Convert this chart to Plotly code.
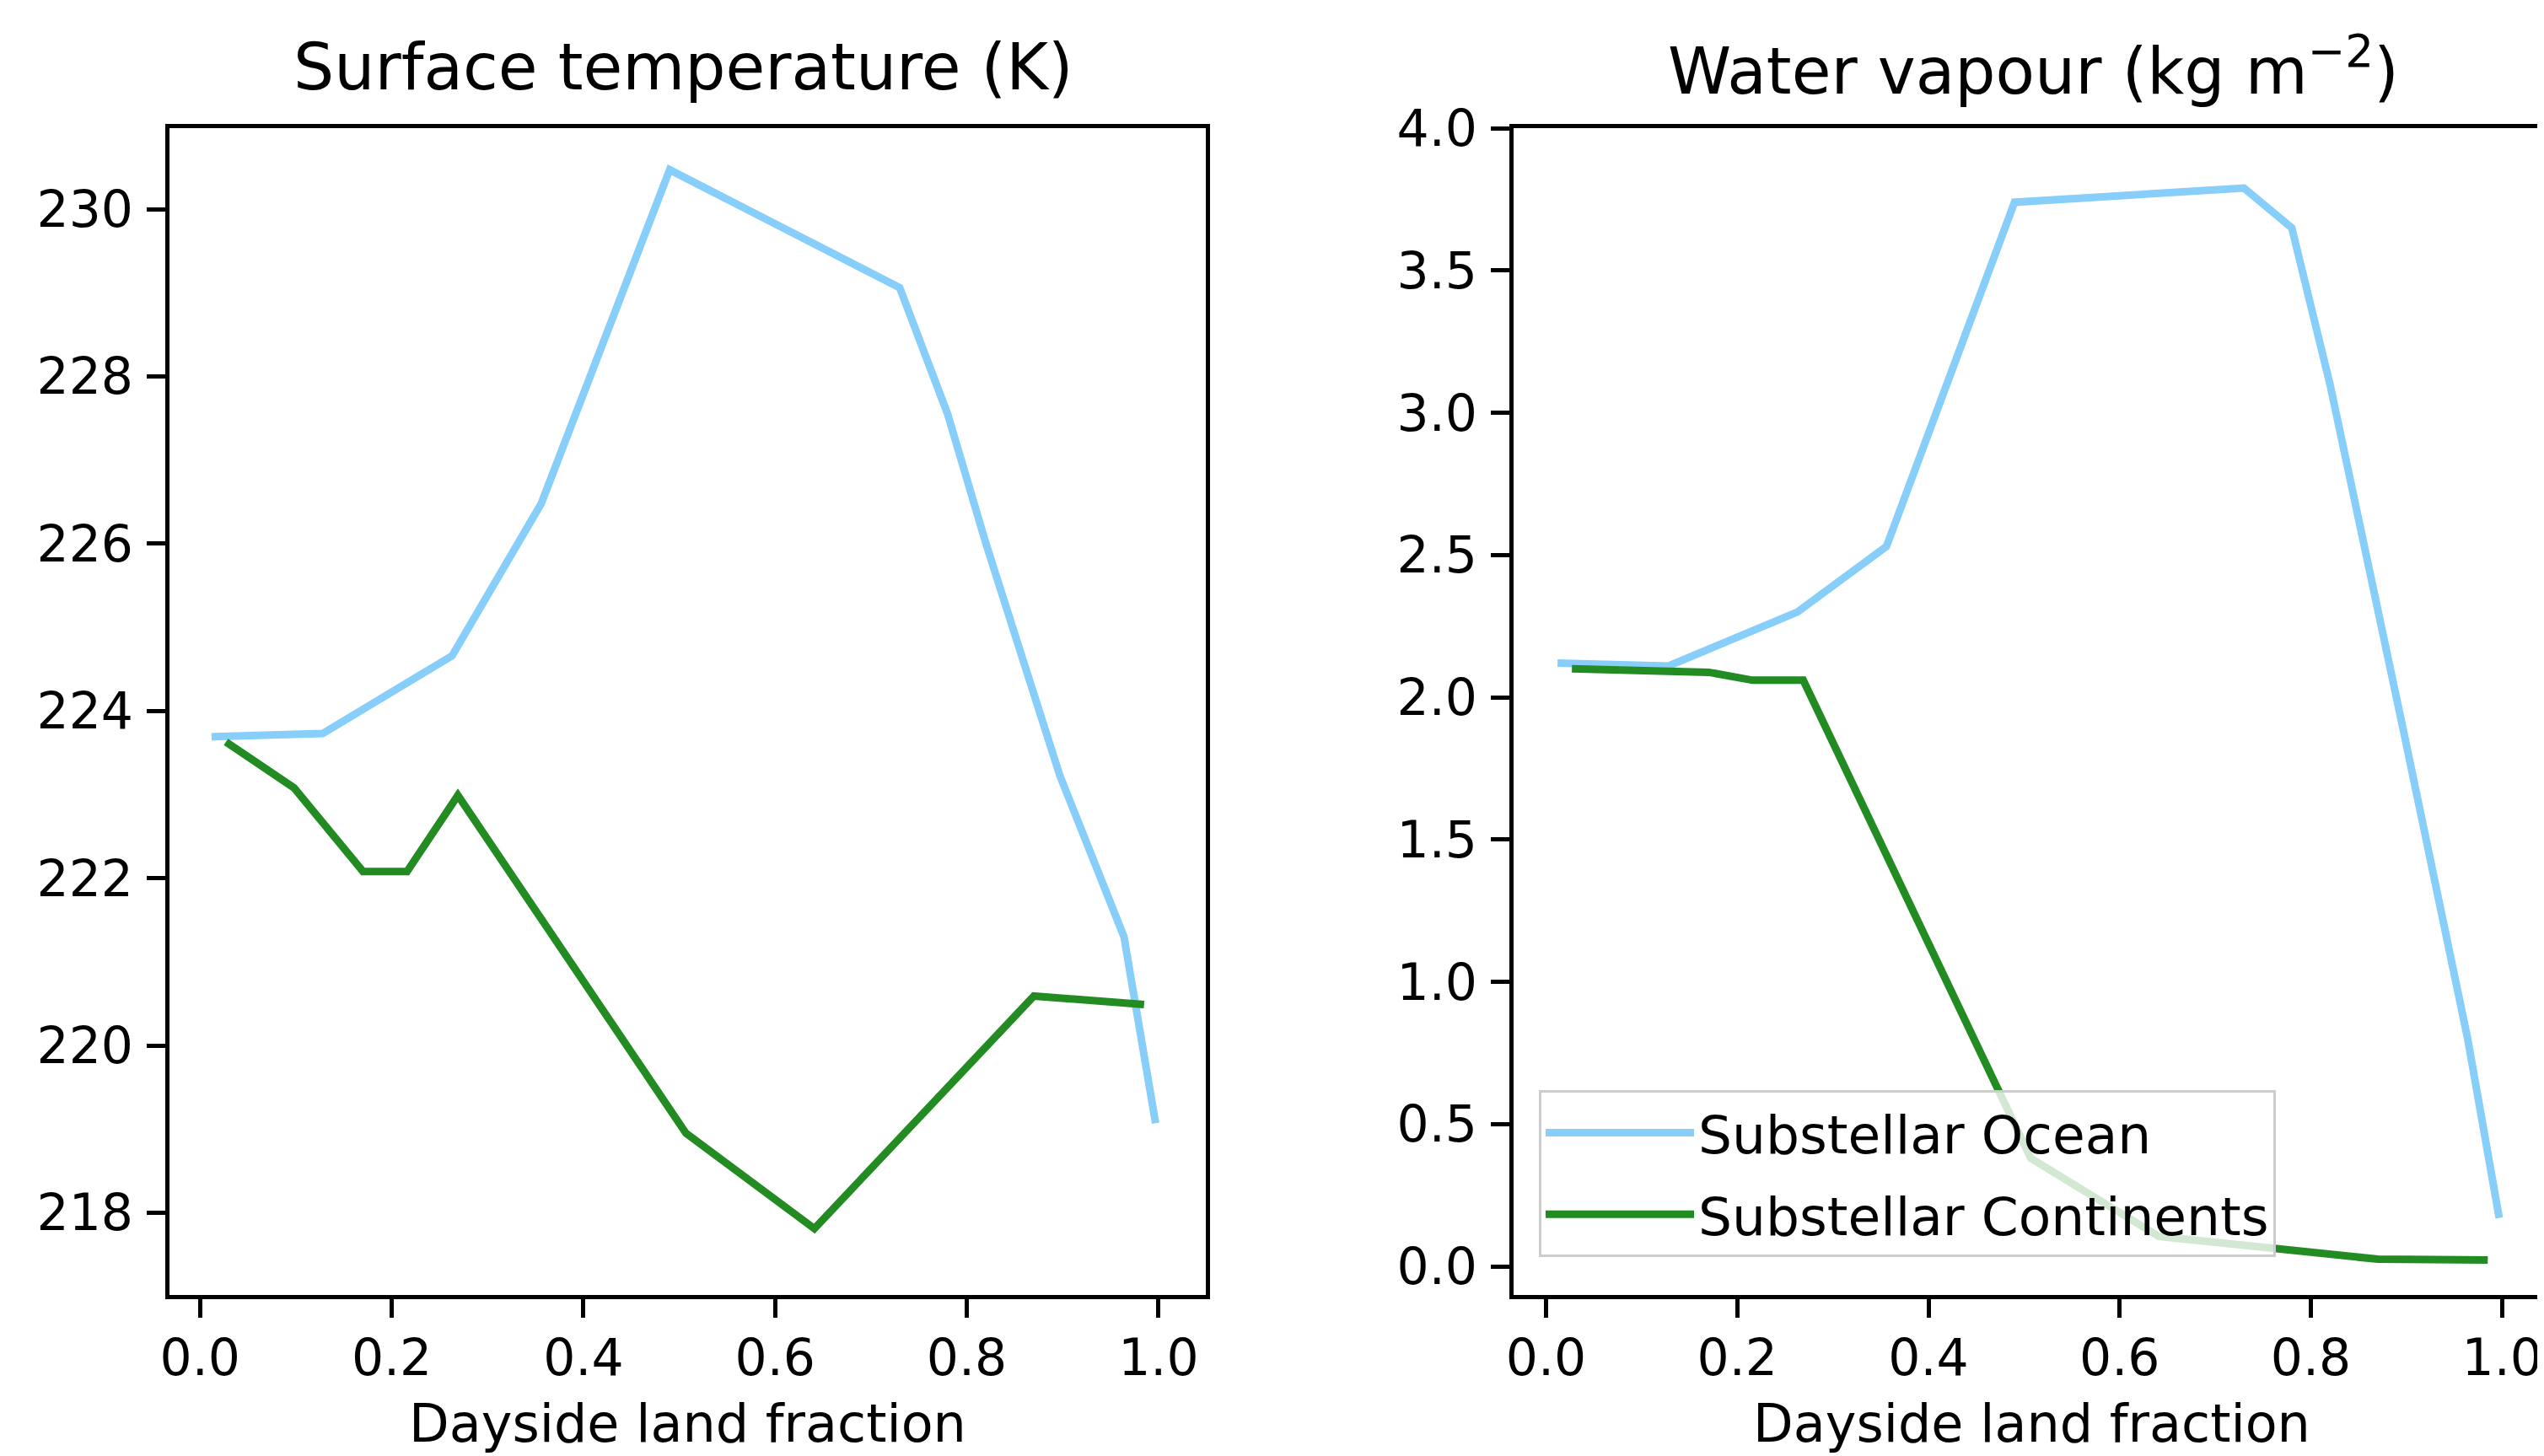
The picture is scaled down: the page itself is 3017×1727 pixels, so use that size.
import plotly.graph_objects as go

# ---- data ----
land_ocean = [0.012, 0.128, 0.263, 0.356, 0.490, 0.730, 0.780, 0.820, 0.897, 0.964, 0.997]
temp_ocean = [223.69, 223.73, 224.66, 226.48, 230.47, 229.06, 227.55, 226.0, 223.23, 221.3, 219.07]
vapour_ocean = [2.12, 2.11, 2.30, 2.53, 3.74, 3.79, 3.65, 3.10, 1.88, 0.80, 0.17]

land_cont = [0.027, 0.098, 0.170, 0.216, 0.269, 0.507, 0.641, 0.870, 0.985]
temp_cont = [223.63, 223.08, 222.08, 222.08, 222.99, 218.95, 217.81, 220.59, 220.49]
vapour_cont = [2.10, 2.095, 2.088, 2.06, 2.06, 0.38, 0.105, 0.025, 0.022]

series_names = ["Substellar Ocean", "Substellar Continents"]
panel_titles = ["Surface temperature (K)", "Water vapour (kg m<sup>\u22122</sup>)"]
x_label = "Dayside land fraction"
x_ticks = [0.0, 0.2, 0.4, 0.6, 0.8, 1.0]
temp_ticks = [218, 220, 222, 224, 226, 228, 230]
vapour_ticks = [0.0, 0.5, 1.0, 1.5, 2.0, 2.5, 3.0, 3.5, 4.0]

OCEAN = "#87CEFA"
CONT = "#228B22"
FONT = "DejaVu Sans"
W, H = 3017, 1727
PAGE_OFFSET = 8   # default browser body margin
LW = 9

fig = go.Figure()
fig.add_trace(go.Scatter(x=land_ocean, y=temp_ocean, mode="lines", name=series_names[0],
                         line=dict(color=OCEAN, width=LW), showlegend=False,
                         xaxis="x", yaxis="y"))
fig.add_trace(go.Scatter(x=land_cont, y=temp_cont, mode="lines", name=series_names[1],
                         line=dict(color=CONT, width=LW), showlegend=False,
                         xaxis="x", yaxis="y"))
fig.add_trace(go.Scatter(x=land_ocean, y=vapour_ocean, mode="lines", name=series_names[0],
                         line=dict(color=OCEAN, width=LW), legendgroup="a",
                         xaxis="x2", yaxis="y2"))
fig.add_trace(go.Scatter(x=land_cont, y=vapour_cont, mode="lines", name=series_names[1],
                         line=dict(color=CONT, width=LW), legendgroup="b",
                         xaxis="x2", yaxis="y2"))

def px_x(p):
    return (p - PAGE_OFFSET) / W

def px_y(p):
    return 1 - (p - PAGE_OFFSET) / H

tickfont = dict(family=FONT, size=60, color="black")
labelfont = dict(family=FONT, size=62, color="black")
titlefont = dict(family=FONT, size=76, color="black")
common_axis = dict(showline=True, linecolor="black", linewidth=5, ticks="outside",
                   ticklen=22, tickwidth=5, tickcolor="black", showgrid=False,
                   zeroline=False, tickfont=tickfont, automargin=False)

left_x = (201, 1430)
right_x0 = 1795
plot_y = (152, 1536)

fig.update_layout(
    width=W, height=H,
    margin=dict(l=0, r=0, t=0, b=0),
    paper_bgcolor="white", plot_bgcolor="white",
    font=dict(family=FONT, color="black"),
    xaxis=dict(domain=[px_x(left_x[0]), px_x(left_x[1])], range=[-0.0319, 1.0494],
               tickvals=x_ticks, tickformat=".1f", mirror=True, anchor="y",
               ticklabelstandoff=-4, **common_axis),
    yaxis=dict(domain=[px_y(plot_y[1]), px_y(plot_y[0])], range=[217.016, 230.968],
               tickvals=temp_ticks, mirror=True, anchor="x",
               ticklabelstandoff=4, **common_axis),
    xaxis2=dict(domain=[px_x(right_x0), 1.0], range=[-0.034, 1.0509],
                tickvals=x_ticks, tickformat=".1f", mirror=True, anchor="y2",
                ticklabelstandoff=-4, **common_axis),
    yaxis2=dict(domain=[px_y(plot_y[1]), px_y(plot_y[0])], range=[-0.1007, 4.0005],
                tickvals=vapour_ticks, tickformat=".1f", mirror=False, anchor="x2",
                ticklabelstandoff=4, **common_axis),
    legend=dict(x=px_x(1825), y=px_y(1293), xanchor="left", yanchor="top",
                bgcolor="rgba(255,255,255,0.8)", bordercolor="#cccccc", borderwidth=3,
                font=dict(family=FONT, size=63, color="black"),
                itemwidth=176, tracegroupgap=12),
    annotations=[
        dict(text=panel_titles[0], x=px_x(810), y=px_y(80), xref="paper", yref="paper",
             xanchor="center", yanchor="middle", showarrow=False, font=titlefont),
        dict(text=panel_titles[1], x=px_x(2411), y=px_y(80), xref="paper", yref="paper",
             xanchor="center", yanchor="middle", showarrow=False, font=titlefont),
        dict(text=x_label, x=px_x(sum(left_x) / 2), y=px_y(H), xref="paper", yref="paper",
             xanchor="center", yanchor="bottom", showarrow=False, font=labelfont),
        dict(text=x_label, x=px_x(2409), y=px_y(H), xref="paper", yref="paper",
             xanchor="center", yanchor="bottom", showarrow=False, font=labelfont),
    ],
)

fig.write_html("out.html")
